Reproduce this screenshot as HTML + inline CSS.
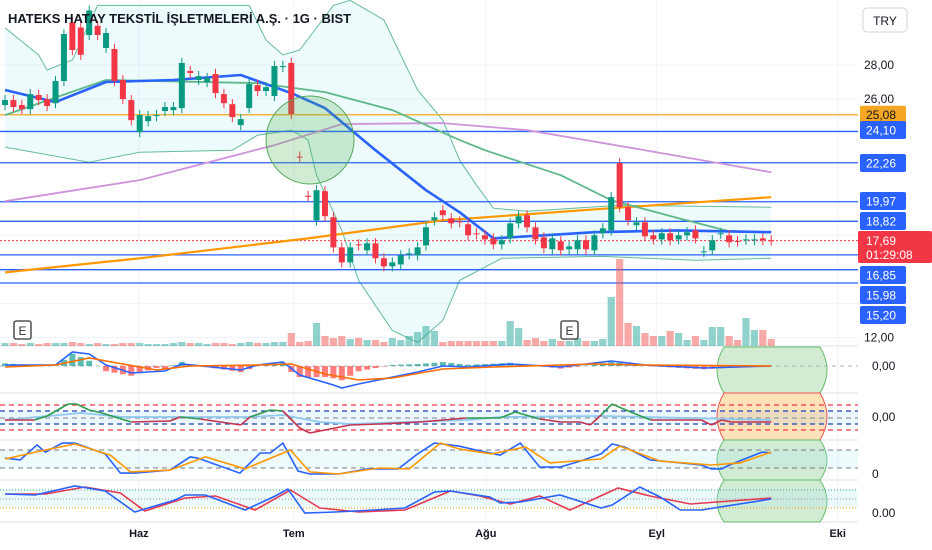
<!DOCTYPE html>
<html><head><meta charset="utf-8"><style>
html,body{margin:0;padding:0;background:#fff;width:932px;height:550px;overflow:hidden}
svg{display:block;font-family:"Liberation Sans","Noto Sans CJK JP",sans-serif}
</style></head><body>
<svg id="c" width="932" height="550" viewBox="0 0 932 550">
<g id="grid"></g>
<g id="bands"></g>
<g id="hlines"></g>
<g id="vol"></g>
<g id="mas"></g>
<g id="candles"></g>
<circle cx="310" cy="140" r="44" fill="rgba(76,175,80,0.25)" stroke="#5aa85e" stroke-width="1"/>
<g id="panels"></g>
<g id="axis"></g>
<text x="8" y="23" font-size="13" font-weight="bold" fill="#131722">HATEKS HATAY TEKSTİL İŞLETMELERİ A.Ş. · 1G · BIST</text>
<g><rect x="14" y="321" width="17" height="18" rx="2" fill="#fff" stroke="#333" stroke-width="1.3"/><text x="22.5" y="335" font-size="12" text-anchor="middle" fill="#333">E</text></g>
<g><rect x="561" y="321" width="17" height="18" rx="2" fill="#fff" stroke="#333" stroke-width="1.3"/><text x="569.5" y="335" font-size="12" text-anchor="middle" fill="#333">E</text></g>
<g><rect x="863" y="8" width="44" height="24" rx="4" fill="#fff" stroke="#d1d4dc"/><text x="885" y="25" font-size="12" text-anchor="middle" fill="#131722">TRY</text></g>
</svg>
<script>
// ---------- DATA ----------
const opens  = [25.65,25.94,25.65,25.41,26.24,26.0,25.76,27.06,30.5,30.2,29.76,30.3,29.0,28.94,27.12,25.94,24.06,24.7,25.0,25.3,25.35,25.47,27.65,27.12,27.0,27.47,26.29,25.7,24.47,25.47,26.82,26.47,26.18,27.88,28.12,22.62,20.32,18.88,20.59,19.06,17.29,16.41,17.47,17.12,17.53,16.65,16.18,16.29,16.88,16.82,17.41,18.88,19.47,19.0,18.82,18.65,18.12,18.0,17.82,17.47,17.82,18.7,19.18,18.47,17.88,17.18,17.65,17.18,17.18,17.71,17.12,18.12,18.29,22.24,19.65,18.59,18.76,18.0,17.76,18.12,17.76,18.0,18.29,17.03,17.12,18.09,18.0,17.67,17.73,17.71,17.82,17.71];
const closes = [25.94,25.53,25.41,26.29,25.94,25.59,27.06,29.82,28.88,28.6,31.2,29.76,29.88,27.06,26.0,24.76,25.06,25.0,25.06,25.53,25.53,28.12,27.53,27.35,27.24,26.35,25.76,24.94,24.82,26.88,26.47,26.7,27.94,27.94,25.12,22.59,20.3,20.65,19.12,17.29,16.41,17.29,17.41,17.53,16.65,16.18,16.41,16.82,16.94,17.29,18.47,19.06,19.18,18.7,18.76,18.0,18.06,17.76,17.47,17.71,18.7,19.12,18.47,17.76,17.24,17.82,17.12,17.35,17.71,17.18,18.0,18.41,20.24,19.65,18.88,18.76,17.94,17.76,18.12,17.71,18.0,18.18,17.82,17.06,17.71,18.12,17.59,17.65,17.76,17.76,17.71,17.69];
const volumes = [3,3,2,3,2,3,3,3,4,3,2,3,2,2,3,3,3,2,2,2,3,4,3,3,2,3,3,2,3,4,3,3,4,4,13,4,5,23,10,8,10,7,8,6,6,4,8,6,10,14,20,15,4,5,5,5,5,5,5,5,25,18,6,8,5,7,5,5,8,5,5,7,49,87,23,20,13,10,10,15,13,6,10,6,19,19,10,6,28,16,16,7];
// moving averages & bands: bar index + price
const blueIdx  = [0,6,12,20,28,34,38,44,50,54,58,64,70,80,91];
const blueVal  = [26.53,25.82,27.0,27.12,27.41,26.35,25.47,23.0,20.65,19.35,17.82,18.0,18.18,18.29,18.18];
const greenIdx = [0,12,30,38,46,54,57,66,72,80,86,91];
const greenVal = [25.06,27.12,26.94,26.41,25.35,23.59,23.0,21.53,20.06,19.0,18.24,18.18];
const purpleIdx= [0,16,32,40,52,62,76,91];
const purpleVal= [20.0,21.24,23.29,24.53,24.59,24.18,23.0,21.7];
const orangeIdx= [0,16,36,52,72,91];
const orangeVal= [15.82,16.65,17.82,18.88,19.59,20.24];
const upperIdx = [0,4,5,8,11,29,31,33,35,39,41,45,49,52,54,56,58,62,73,91];
const upperVal = [30.18,28.59,27.7,28.3,31.5,31.5,29.47,28.59,28.88,31.5,31.8,30.65,26.53,24.76,22.41,20.94,19.59,19.41,19.76,19.65];
const lowerIdx = [0,10,16,27,30,34,36,37,40,42,46,49,52,54,59,71,82,91];
const lowerVal = [23.18,22.29,22.88,23.0,23.88,24.18,23.59,21.53,18.29,15.35,12.41,11.71,13.0,15.35,16.65,16.76,16.53,16.65];
const levels = [24.10,22.26,19.97,18.82,16.85,15.98,15.20];
const resistance = 25.08;
const lastPrice = 17.69;
const priceTicks = [28,26,12];
const monthLabels = ["Haz","Tem","Ağu","Eyl","Eki"];
const monthIdx = [15.9,34.3,57.1,77.4,98.9];
// MACD panel
const macdIdx = [0,6,8,10,12,15,19,21,28,30,33,35,39,40,42,49,52,55,60,66,72,76,83,91];
const macdVal = [0.05,0.05,0.7,0.6,0.05,-0.35,-0.25,0.1,-0.2,0.05,0.2,-0.45,-0.95,-1.1,-0.9,-0.3,0,-0.05,0.1,-0.05,0.25,0.05,-0.1,0];
const sigIdx  = [0,6,10,14,18,22,30,34,38,42,46,52,58,70,76,91];
const sigVal  = [-0.05,0.05,0.4,0.1,-0.2,0,0.05,0.1,-0.4,-0.7,-0.6,-0.15,-0.05,0.1,0.05,0];
// oscillator panel 2
const oscIdx = [0,3.5,5,7.5,8.5,10,11.5,15,19.6,20.8,23.2,28,29.1,31.5,33,35,36.2,38.6,41,44.5,49.3,54.8,58.8,60.6,63.5,66,68.3,69.5,70.8,72.1,74.3,76.7,82.7,83.9,85.1,86.3,91];
const oscVal = [-0.1,-0.1,0.1,0.7,0.7,0.4,0.25,-0.2,-0.15,0.05,-0.05,-0.35,0.05,0.4,0.35,-0.5,-0.75,-0.55,-0.35,-0.3,-0.2,0,0,0.3,-0.05,-0.2,-0.2,-0.35,0.15,0.7,0.3,-0.1,-0.1,-0.35,-0.1,-0.2,-0.2];
const oscSigIdx = [0,9,14,29,33,37.4,41,54.8,58.8,70.8,91];
const oscSigVal = [-0.1,0.25,0.05,0.05,0.15,-0.2,-0.3,-0.1,0.05,0.1,-0.1];
// stoch RSI panel 3
const kIdx = [0,1.8,3.8,4.8,6.8,8.3,11.9,13.7,15.4,19.6,22,22.9,27.9,30.3,31.5,33,34.8,36.2,39.6,43.1,46.7,49,51,53.9,56.4,58.8,61.2,63.5,65.9,68.3,70.8,72.1,73.6,76.6,82.7,83.9,85.1,86.3,89.9,91];
const kVal = [53,47,97,73,103,103,67,3,3,13,57,53,3,70,70,103,10,0,0,17,17,67,103,93,77,63,103,23,23,43,67,100,90,47,30,17,17,33,73,70];
const dIdx = [0,4.8,8.3,12.5,14.9,19.6,23.8,28.5,33.9,36.2,39.6,44.5,48,51.7,54,57.8,61.8,64.7,70.8,73,77.8,83.9,87.3,91];
const dVal = [50,80,100,63,7,13,57,17,80,7,0,20,17,103,83,67,90,37,50,93,43,30,37,73];
// panel 4
const p4aIdx = [0,3.6,8.3,11.9,15.4,20.2,21.4,23.8,28.5,32.1,33.6,35.6,39.2,43.9,47.5,51,52.9,57.6,58.8,61.2,65.9,70.8,72.1,75.4,77.8,80.2,82.7,91];
const p4aVal = [14,13,22,17,-4,8,13,13,-2,12,19,-5,-4,-2,0,16,17,11,5,6,13,0,3,21,11,-2,-2,9,12];
const p4bIdx = [0,4.8,9.5,13.7,16.6,21.4,25,29.7,33.9,37.4,42,47.5,52.9,56.4,60,63.5,67.1,72.8,76.6,81.4,91];
const p4bVal = [14,14,21,15,-3,10,12,-2,18,0,-4,-2,17,12,4,12,-2,20,12,4,10];

// ---------- AXES ----------
const NS='http://www.w3.org/2000/svg';
const PLOT_R=858;
function xB(i){return 5+8.42*i;}
function yP(p){return 65+(28-p)*17.03;}
function yMacd(v){return 366-v*20;}
function yOsc(v){return 418-v*20;}
function yStoch(v){return 474-v*0.3;}
function yP4(v){return 508-v;}
function el(parent,tag,attrs){const e=document.createElementNS(NS,tag);for(const k in attrs)e.setAttribute(k,attrs[k]);parent.appendChild(e);return e;}
function pathFrom(idx,vals,yf){return idx.map((i,k)=>(k?'L':'M')+xB(i).toFixed(1)+' '+yf(vals[k]).toFixed(1)).join(' ');}
function interp(idx,vals,i){if(i<=idx[0])return vals[0];for(let k=1;k<idx.length;k++){if(i<=idx[k]){const t=(i-idx[k-1])/(idx[k]-idx[k-1]);return vals[k-1]+t*(vals[k]-vals[k-1]);}}return vals[vals.length-1];}

const grid=document.getElementById('grid');
monthIdx.forEach((m,k)=>{
  const l=el(grid,'line',{x1:xB(m),x2:xB(m),y1:0,y2:522,stroke:'#f0f3fa','stroke-width':1});
  
  
  const t=el(grid,'text',{x:xB(m),y:537,'font-size':11,'font-weight':'bold','text-anchor':'middle',fill:'#131722'});
  t.textContent=monthLabels[k];
  
  
});
[28,26,24,22,20,18,16,14,12].forEach(p=>{
  const l=el(grid,'line',{x1:0,x2:PLOT_R,y1:yP(p),y2:yP(p),stroke:'#f0f3fa'});
  
  
});
[346,393,440,480,522].forEach(y=>{
  const l=el(grid,'line',{x1:0,x2:932,y1:y,y2:y,stroke:'#e0e3eb'});
  
  
});

// bands
const bands=document.getElementById('bands');
let up=upperIdx.map((i,k)=>[xB(i),yP(upperVal[k])]);
let lo=lowerIdx.map((i,k)=>[xB(i),yP(lowerVal[k])]).reverse();
const bf=el(bands,'path',{d:'M'+up.concat(lo).map(p=>p[0].toFixed(1)+' '+p[1].toFixed(1)).join(' L')+'Z',fill:'rgba(178,235,242,0.22)',stroke:'none'});


const bu=el(bands,'path',{d:pathFrom(upperIdx,upperVal,yP),fill:'none',stroke:'#66bb9a','stroke-width':1});


const bl=el(bands,'path',{d:pathFrom(lowerIdx,lowerVal,yP),fill:'none',stroke:'#66bb9a','stroke-width':1});



// levels
const hl=document.getElementById('hlines');
levels.forEach(p=>{
  const l=el(hl,'line',{x1:0,x2:PLOT_R,y1:yP(p),y2:yP(p),stroke:'#2962ff','stroke-width':1.3});
  
  
});
const rl=el(hl,'line',{x1:0,x2:PLOT_R,y1:yP(resistance),y2:yP(resistance),stroke:'#f5a623','stroke-width':1.3});


const pl=el(hl,'line',{x1:0,x2:PLOT_R,y1:yP(lastPrice),y2:yP(lastPrice),stroke:'#f23645','stroke-width':1,'stroke-dasharray':'2 2'});



// volume
const vol=document.getElementById('vol');
volumes.forEach((v,i)=>{
  const up=closes[i]>=opens[i];
  const r=el(vol,'rect',{x:xB(i)-3.6,y:346-v,width:7.2,height:v,fill:up?'rgba(38,166,154,0.5)':'rgba(239,83,80,0.5)'});
  
  
});

// MAs
const mas=document.getElementById('mas');
[[purpleIdx,purpleVal,'#ce93d8',1.8,'ma-100'],[orangeIdx,orangeVal,'#ff9800',2.2,'ma-200'],[greenIdx,greenVal,'#5fb88a',1.8,'ma-50'],[blueIdx,blueVal,'#2962ff',2.6,'ema-20']].forEach(s=>{
  const p=el(mas,'path',{d:pathFrom(s[0],s[1],yP),fill:'none',stroke:s[2],'stroke-width':s[3],'stroke-linejoin':'round'});
  
  
});

// candles
const cg=document.getElementById('candles');
opens.forEach((o,i)=>{
  const c=closes[i],upc=c>=o,col=upc?'#089981':'#f23645';
  const hi=Math.max(o,c)+0.3,lw=Math.min(o,c)-0.3;
  const g=el(cg,'g',{});
  
  
  el(g,'line',{x1:xB(i),x2:xB(i),y1:yP(hi),y2:yP(lw),stroke:col,'stroke-width':1});
  const top=yP(Math.max(o,c)),bot=yP(Math.min(o,c));
  el(g,'rect',{x:xB(i)-3,y:top,width:6,height:Math.max(1,bot-top),fill:col});
});

// panels
const pn=document.getElementById('panels');
// highlight shapes
[[347,393,'rgba(76,175,80,0.25)','#66bb6a'],[393,440,'rgba(255,152,0,0.28)','#ef5350'],[440,480,'rgba(76,175,80,0.25)','#66bb6a'],[480,522,'rgba(76,175,80,0.25)','#66bb6a']].forEach(s=>{
  const h=s[1]-s[0];
  const p=el(pn,'path',{d:`M724 ${s[0]} L820 ${s[0]} Q834 ${s[0]+h/2} 820 ${s[1]} L724 ${s[1]} Q710 ${s[0]+h/2} 724 ${s[0]}Z`,fill:s[2],stroke:s[3],'stroke-width':1});
  
  
});
// MACD
const z=el(pn,'line',{x1:0,x2:PLOT_R,y1:366,y2:366,stroke:'#b2b5be','stroke-dasharray':'4 4'});


for(let i=0;i<opens.length;i++){
  const h=(interp(macdIdx,macdVal,i)-interp(sigIdx,sigVal,i))*1.3;
  const r=el(pn,'rect',{x:xB(i)-3,y:Math.min(366,yMacd(h)),width:6,height:Math.abs(h*20),fill:h>=0?'rgba(38,166,154,0.75)':'rgba(255,82,82,0.75)'});
  
  
}
let p=el(pn,'path',{d:pathFrom(macdIdx,macdVal,yMacd),fill:'none',stroke:'#2962ff','stroke-width':1.6});

p=el(pn,'path',{d:pathFrom(sigIdx,sigVal,yMacd),fill:'none',stroke:'#ff6d00','stroke-width':1.6});

// panel 2
const fb=el(pn,'rect',{x:0,y:411,width:PLOT_R,height:13,fill:'rgba(100,181,246,0.12)'});

[[405,'#f23645'],[411,'#1e3fbf'],[418,'#9598a1'],[424,'#1e3fbf'],[430,'#f23645']].forEach(d=>{
  const l=el(pn,'line',{x1:0,x2:PLOT_R,y1:d[0],y2:d[0],stroke:d[1],'stroke-width':1.3,'stroke-dasharray':'5 4'});
  
});
p=el(pn,'path',{d:pathFrom(oscSigIdx,oscSigVal,yOsc),fill:'none',stroke:'#8fc9ef','stroke-width':1.8});

for(let k=1;k<oscIdx.length;k++){
  const avg=(oscVal[k]+oscVal[k-1])/2;
  const s=el(pn,'line',{x1:xB(oscIdx[k-1]),y1:yOsc(oscVal[k-1]),x2:xB(oscIdx[k]),y2:yOsc(oscVal[k]),stroke:avg>=0?'#2e9d4f':'#c2334f','stroke-width':1.6});
  
}
// panel 3
const sb=el(pn,'rect',{x:0,y:450,width:PLOT_R,height:18,fill:'rgba(178,235,242,0.25)'});

[450,468].forEach(y=>{const l=el(pn,'line',{x1:0,x2:PLOT_R,y1:y,y2:y,stroke:'#787b86','stroke-dasharray':'5 4'});
  });
p=el(pn,'path',{d:pathFrom(kIdx,kVal,yStoch),fill:'none',stroke:'#2962ff','stroke-width':1.6});

p=el(pn,'path',{d:pathFrom(dIdx,dVal,yStoch),fill:'none',stroke:'#ff9800','stroke-width':1.6});

// panel 4
const b4=el(pn,'rect',{x:0,y:490,width:PLOT_R,height:18,fill:'rgba(178,235,242,0.25)'});

[[490,'#26a69a'],[499,'#9598a1'],[508,'#ff9800']].forEach(d=>{const l=el(pn,'line',{x1:0,x2:PLOT_R,y1:d[0],y2:d[0],stroke:d[1],'stroke-dasharray':'1 2'});
  });
p=el(pn,'path',{d:pathFrom(p4bIdx,p4bVal,yP4),fill:'none',stroke:'#e53950','stroke-width':1.6});

p=el(pn,'path',{d:pathFrom(p4aIdx,p4aVal,yP4),fill:'none',stroke:'#2962ff','stroke-width':1.6});


// axis
const ax=document.getElementById('axis');
const bg=el(ax,'rect',{x:PLOT_R,y:36,width:74,height:514,fill:'#fff'});

priceTicks.forEach(t=>{const tx=el(ax,'text',{x:864,y:yP(t)+4,'font-size':12,fill:'#131722'});
  tx.textContent=t.toFixed(2).replace('.',',');
  });
function tag(y,txt,bgc,name){
  const g=el(ax,'g',{});
  
  el(g,'rect',{x:860,y:y-9,width:46,height:18,rx:2,fill:bgc});
  const t=el(g,'text',{x:866,y:y+4.5,'font-size':12,fill:bgc=='#f5a623'?'#131722':'#fff'});t.textContent=txt;
}
const tagY=[130,163,201,221,275,295,315];
tag(yP(resistance),resistance.toFixed(2).replace('.',','),'#f5a623','resistance-tag');
levels.forEach((l,k)=>tag(tagY[k],l.toFixed(2).replace('.',','),'#2962ff','level-tag'));
const lg=el(ax,'g',{});

el(lg,'rect',{x:858,y:231,width:74,height:32,rx:2,fill:'#f23645'});
let t=el(lg,'text',{x:866,y:245,'font-size':12,fill:'#fff'});t.textContent=lastPrice.toFixed(2).replace('.',',');
t=el(lg,'text',{x:866,y:259,'font-size':12,fill:'#fff'});t.textContent='01:29:08';
[[370,'0,00'],[421,'0,00'],[478,'0'],[517,'0.00']].forEach(d=>{const tx=el(ax,'text',{x:872,y:d[0],'font-size':12,fill:'#131722'});
  tx.textContent=d[1];});
</script>
</body></html>
